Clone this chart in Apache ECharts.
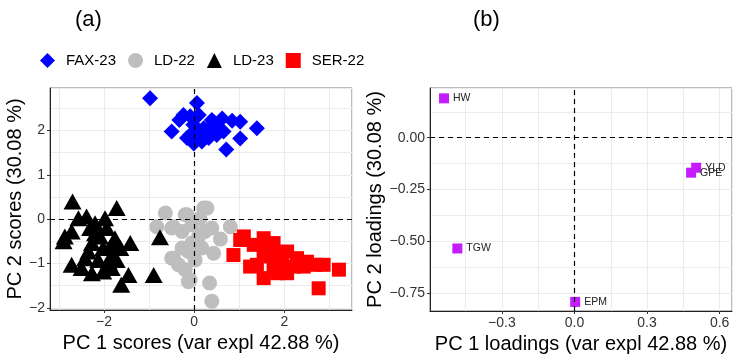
<!DOCTYPE html>
<html>
<head>
<meta charset="utf-8">
<script src="https://cdn.jsdelivr.net/npm/echarts@6/dist/echarts.min.js"></script>
<style>
  html, body { margin: 0; padding: 0; background: #fff; }
  #chart { width: 748px; height: 364px; }
</style>
</head>
<body>
<div id="chart"></div>
<script>
// PCA scores, one array of [PC1, PC2] per group
var fax23 = [
  [-0.98, 2.73], [0.06, 2.62], [-0.24, 2.35], [-0.33, 2.24], [-0.5, 1.98], [-0.09, 2.32],
  [0.1, 2.35], [0.39, 2.24], [0.62, 2.27], [0.84, 2.22], [1.02, 2.2], [1.02, 1.82],
  [0.71, 1.57], [1.39, 2.05], [-0.16, 1.83], [-0.01, 1.71], [0.17, 1.75], [0.32, 1.83],
  [0.5, 1.9], [0.54, 2.05], [0.21, 2.05], [0.06, 1.98], [0.36, 2.05], [0.47, 2.13],
  [-0.02, 2.13], [0.13, 1.9], [0.28, 1.94], [-0.09, 1.9], [0.65, 1.98], [0.43, 2.2]
];
var ld22 = [
  [-0.64, 0.14], [-0.83, -0.17], [-0.5, -0.2], [-0.2, 0.1], [0.21, 0.25], [0.13, 0.02],
  [-0.05, -0.13], [-0.27, -0.28], [0.24, -0.28], [0.39, -0.2], [0.58, -0.45], [0.8, -0.17],
  [0.43, -0.77], [0.17, -0.65], [-0.05, -0.54], [-0.27, -0.65], [-0.5, -0.88], [-0.35, -1.03],
  [-0.2, -1.14], [-0.13, -1.41], [0.34, -1.44], [0.39, -1.85], [0.02, -0.92], [-0.13, -0.73],
  [0.1, -0.39], [0.28, 0.25], [-0.16, 0.1], [-0.46, -0.17], [-0.09, -1.37], [-0.46, -0.88]
];
var ld23 = [
  [-2.7, 0.4], [-1.72, 0.25], [-2.57, 0.02], [-2.39, 0.06], [-1.98, 0.02], [-2.87, -0.39],
  [-2.72, -0.28], [-2.31, -0.2], [-2.2, -0.32], [-1.94, -0.2], [-1.76, -0.43], [-1.42, -0.54],
  [-0.76, -0.41], [-2.27, -0.54], [-2.02, -0.65], [-2.35, -0.73], [-1.83, -0.81], [-2.72, -1.03],
  [-2.5, -1.1], [-2.27, -1.22], [-2.02, -1.18], [-1.83, -1.1], [-1.46, -1.26], [-1.62, -1.48],
  [-0.9, -1.26], [-2.42, -0.88], [-2.13, -0.92], [-1.9, -0.96], [-1.72, -0.92], [-2.09, -0.39],
  [-1.83, -0.58], [-2.2, -0.09], [-1.64, -0.65], [-2.9, -0.5]
];
var ser22 = [
  [1.1, -0.39], [0.87, -0.81], [1.54, -0.43], [1.76, -0.54], [1.32, -0.58], [2.06, -0.73],
  [1.39, -1.03], [1.54, -1.33], [1.76, -1.1], [1.91, -0.99], [2.28, -0.88], [2.5, -0.96],
  [2.87, -1.03], [3.21, -1.14], [2.76, -1.56], [2.06, -1.22], [1.69, -0.84], [2.43, -1.07],
  [1.54, -0.73], [2.21, -1.07], [1.84, -1.22], [1.24, -1.07], [2.69, -1.03], [1.95, -0.81],
  [1.02, -0.47]
];

// PCA loadings
var loadingNames = ['HW', 'TGW', 'EPM', 'GPE', 'YLD'];
var loadingPC1 = [-0.539, -0.484, 0.003, 0.482, 0.503];
var loadingPC2 = [0.19, -0.535, -0.793, -0.169, -0.145];

// tick labels
var scoreTicksX = [-2, 0, 2];
var scoreTicksY = [-2, -1, 0, 1, 2];
var loadTicksX = [-0.3, 0, 0.3, 0.6];
var loadTicksY = [-0.75, -0.5, -0.25, 0];

var FONT = '"Liberation Sans", Arial, sans-serif';

function fmt(dec) {
  return function (v) {
    var s = Math.abs(v).toFixed(dec);
    return (v < -1e-9 ? '\u2212' : '') + s;
  };
}

function majorAxis(grid, pos, min, max, ticks, dec, name, gap) {
  return {
    type: 'value', gridIndex: grid, position: pos, min: min, max: max,
    name: name, nameLocation: 'middle', nameGap: gap,
    nameTextStyle: { fontSize: 20, color: '#000', fontFamily: FONT },
    axisLine: { show: true, onZero: false, lineStyle: { color: '#222', width: 1 } },
    axisTick: { show: true, length: 3, customValues: ticks, lineStyle: { color: '#333' } },
    axisLabel: { customValues: ticks, formatter: fmt(dec), fontSize: 14, color: '#333',
                 margin: 5, fontFamily: FONT },
    splitLine: { show: false }
  };
}

function gridAxis(grid, pos, min, max, step) {
  return {
    type: 'value', gridIndex: grid, position: pos, min: min, max: max,
    minInterval: step, maxInterval: step, splitNumber: 10,
    axisLine: { show: false }, axisTick: { show: false }, axisLabel: { show: false },
    splitLine: { show: true, lineStyle: { color: '#ebebeb', width: 1 } }
  };
}

var zeroLines = {
  silent: true, symbol: ['none', 'none'], label: { show: false },
  lineStyle: { color: '#000', type: [5, 4], width: 1.2 },
  emphasis: { disabled: true },
  data: [{ xAxis: 0 }, { yAxis: 0 }]
};

var loadingData = loadingNames.map(function (n, i) {
  return { name: n, value: [loadingPC1[i], loadingPC2[i]] };
});

var chart = echarts.init(document.getElementById('chart'), null, { renderer: 'canvas' });
chart.setOption({
  animation: false,
  backgroundColor: '#fff',
  textStyle: { fontFamily: FONT },
  title: [
    { text: '(a)', left: 70, top: 4, textStyle: { fontSize: 22, fontWeight: 'normal', color: '#000', fontFamily: FONT } },
    { text: '(b)', left: 468, top: 4, textStyle: { fontSize: 22, fontWeight: 'normal', color: '#000', fontFamily: FONT } }
  ],
  legend: {
    data: ['FAX-23', 'LD-22', 'LD-23', 'SER-22'],
    left: 35, top: 48, itemWidth: 15, itemHeight: 15, itemGap: 12,
    textStyle: { fontSize: 15, color: '#000', fontFamily: FONT, padding: [0, 0, 0, 6] },
    selectedMode: false
  },
  grid: [
    { left: 50, top: 88, width: 302, height: 222, show: true, borderColor: '#777', borderWidth: 1, backgroundColor: '#fff' },
    { left: 430, top: 88, width: 302, height: 223, show: true, borderColor: '#777', borderWidth: 1, backgroundColor: '#fff' }
  ],
  xAxis: [
    majorAxis(0, 'bottom', -3.2, 3.5, scoreTicksX, 0, 'PC 1 scores (var expl 42.88 %)', 23),
    gridAxis(0, 'bottom', -3.2, 3.5, 1),
    majorAxis(1, 'bottom', -0.597, 0.651, loadTicksX, 1, 'PC 1 loadings (var expl 42.88 %)', 23),
    gridAxis(1, 'bottom', -0.597, 0.651, 0.15)
  ],
  yAxis: [
    majorAxis(0, 'left', -2.05, 2.96, scoreTicksY, 0, 'PC 2 scores (30.08 %)', 19),
    gridAxis(0, 'left', -2.05, 2.96, 0.5),
    majorAxis(1, 'left', -0.837, 0.24, loadTicksY, 2, 'PC 2 loadings (30.08 %)', 36),
    gridAxis(1, 'left', -0.837, 0.24, 0.125)
  ],
  series: [
    { name: 'FAX-23', type: 'scatter', xAxisIndex: 0, yAxisIndex: 0, data: fax23,
      symbol: 'diamond', symbolSize: 16, itemStyle: { color: '#0000ff', opacity: 1 } },
    { name: 'LD-22', type: 'scatter', xAxisIndex: 0, yAxisIndex: 0, data: ld22,
      symbol: 'circle', symbolSize: 15, itemStyle: { color: '#bebebe', opacity: 1 } },
    { name: 'LD-23', type: 'scatter', xAxisIndex: 0, yAxisIndex: 0, data: ld23,
      symbol: 'triangle', symbolSize: [18, 16], itemStyle: { color: '#000', opacity: 1 } },
    { name: 'SER-22', type: 'scatter', xAxisIndex: 0, yAxisIndex: 0, data: ser22,
      symbol: 'rect', symbolSize: 14, itemStyle: { color: '#ff0000', opacity: 1 },
      markLine: zeroLines },
    { name: 'loadings', type: 'scatter', xAxisIndex: 2, yAxisIndex: 2, data: loadingData,
      symbol: 'rect', symbolSize: 10, itemStyle: { color: '#c41cff', opacity: 1 },
      label: { show: true, position: 'right', distance: 4, formatter: '{b}',
               fontSize: 10.5, color: '#222', fontFamily: FONT },
      labelLayout: { hideOverlap: false },
      markLine: zeroLines }
  ]
});
</script>
</body>
</html>
